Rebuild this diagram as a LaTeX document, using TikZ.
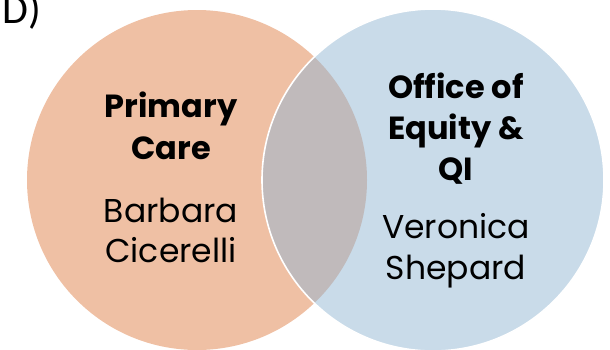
\documentclass[tikz,border=0pt]{standalone}
\usepackage{fontspec}
\setmainfont{Poppins}
\newfontfamily\labelfont{Carlito}
\definecolor{orangeC}{RGB}{239,192,164}
\definecolor{blueC}{RGB}{201,219,233}
\definecolor{lensC}{RGB}{192,186,187}
\tikzset{
  boldline/.style={anchor=base, inner sep=0pt, font=\fontsize{32}{38}\selectfont\bfseries},
  nameline/.style={anchor=base, inner sep=0pt, font=\fontsize{33}{40}\selectfont},
}
\begin{document}
\begin{tikzpicture}[x=1pt,y=-1pt]
\useasboundingbox (0,0) rectangle (610,349);
\begin{scope}
\clip (0,0) rectangle (610,349);
\fill[orangeC] (197,180) circle[radius=170];
\fill[blueC] (433,180) circle[radius=171];
\begin{scope}
\clip (197,180) circle[radius=170];
\fill[lensC] (433,180) circle[radius=171];
\end{scope}
\draw[white, line width=1.6pt] (433,180) circle[radius=171];
\end{scope}
\node[anchor=base west, inner sep=0pt, font=\labelfont\fontsize{42}{48}\selectfont] (lbl) at (2,23) {D)};
\node[boldline] (l1) at (171,117) {Primary};
\node[boldline] (l2) at (171,159) {Care};
\node[nameline] (l3) at (171,222) {Barbara};
\node[nameline] (l4) at (171,262) {Cicerelli};
\node[boldline] (r1) at (456,98) {Office of};
\node[boldline] (r2) at (456,139) {Equity \&};
\node[boldline] (r3) at (456,180) {QI};
\node[nameline] (r4) at (456,238) {Veronica};
\node[nameline] (r5) at (456,279) {Shepard};
\end{tikzpicture}
\end{document}
